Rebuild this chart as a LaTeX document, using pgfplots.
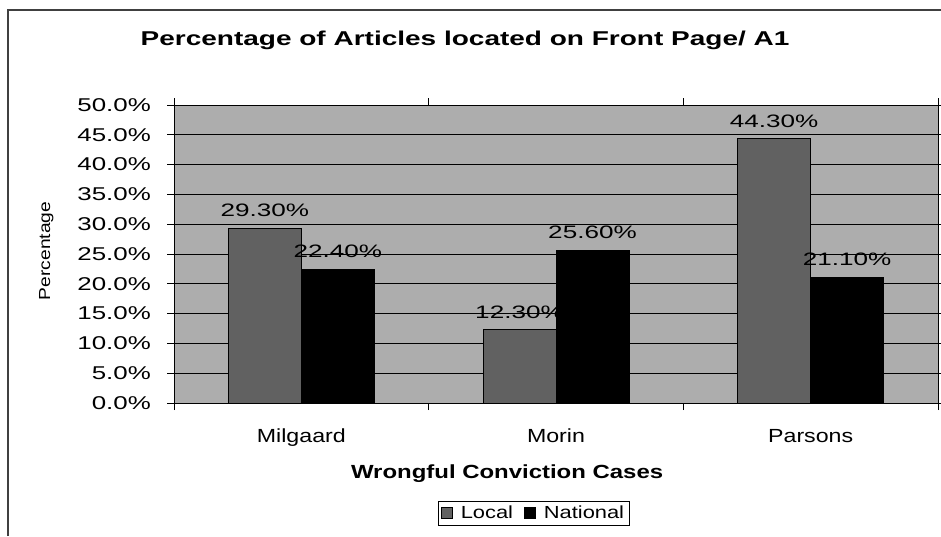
\documentclass[border=0pt]{standalone}
\usepackage{fontspec}
\setmainfont{Liberation Sans}
\usepackage{pgfplots}
\pgfplotsset{compat=1.18}
\newfontfamily\tickf[FakeStretch=1.4]{Liberation Sans}
\newfontfamily\catf[FakeStretch=1.22]{Liberation Sans}
\newfontfamily\titf[FakeStretch=1.4]{Liberation Sans}
\newfontfamily\xlabf[FakeStretch=1.26]{Liberation Sans}
\newfontfamily\ylabf[FakeStretch=1.2]{Liberation Sans}
\newfontfamily\legf[FakeStretch=1.25]{Liberation Sans}
\newfontfamily\datf[FakeStretch=1.45]{Liberation Sans}
\definecolor{plotbg}{gray}{0.68}
\definecolor{localc}{gray}{0.38}
\begin{document}
\begin{tikzpicture}
\useasboundingbox (0pt,0pt) rectangle (941pt,536pt);
\fill[white] (0pt,0pt) rectangle (941pt,536pt);
\draw[line width=1.2pt, black!75] (8pt,0pt) -- (8pt,526pt) -- (941pt,526pt);
\begin{axis}[
  at={(174pt,133pt)}, anchor=south west,
  scale only axis, width=764pt, height=298pt,
  xmin=-0.5, xmax=2.5, ymin=0, ymax=50,
  ybar=0pt, bar width=73pt,
  axis background/.style={fill=plotbg},
  axis line style={black, line width=0.9pt},
  tick align=outside, major tick length=7pt,
  tick style={black, line width=0.9pt},
  ytick={0,5,...,50},
  ymajorgrids, major grid style={black, line width=0.9pt},
  /pgf/number format/assume math mode=true,
  yticklabel={\pgfmathprintnumber[fixed,fixed zerofill,precision=1]{\tick}\%},
  yticklabel style={font=\tickf\fontsize{18.5}{21}\selectfont, anchor=east, inner sep=0pt, xshift=-16pt},
  xtick={-0.5,0.5,1.5,2.5}, xticklabels={},
  extra x ticks={0,1,2}, extra x tick labels={Milgaard,Morin,Parsons},
  extra x tick style={major tick length=0pt, grid=none},
  xticklabel style={font=\catf\fontsize{19}{22}\selectfont, anchor=base, inner sep=0pt, yshift=-39pt},
  title={Percentage of Articles located on Front Page/ A1},
  title style={at={(0.381,1.181)}, anchor=base, inner sep=0pt, font=\titf\bfseries\fontsize{20}{24}\selectfont},
  xlabel={Wrongful Conviction Cases},
  xlabel style={at={(0.436,-0.255)}, anchor=base, inner sep=0pt, font=\xlabf\bfseries\fontsize{19}{22}\selectfont},
  ylabel={Percentage},
  ylabel style={at={(-0.167,0.510)}, anchor=center, inner sep=0pt, font=\ylabf\fontsize{16}{18}\selectfont},
  nodes near coords={\pgfmathprintnumber[fixed,fixed zerofill,precision=2]{\pgfplotspointmeta}\%},
  nodes near coords style={font=\datf\fontsize{18}{21}\selectfont, text=black, anchor=south, inner sep=0pt, yshift=11pt},
  legend columns=2,
  legend style={at={(0.4706,-0.369)}, anchor=center, draw=black, line width=0.7pt,
    font=\legf\fontsize{17.5}{20}\selectfont, inner xsep=3pt, inner ysep=3pt,
    /tikz/every odd column/.append style={column sep=6pt},
    /tikz/every even column/.append style={column sep=9pt}},
]
\addplot[fill=localc, draw=black, line width=1pt,
  legend image code/.code={\draw[fill=localc, draw=black, line width=0.8pt] (0pt,-5.5pt) rectangle (11pt,5.5pt);}]
  coordinates {(0,29.3) (1,12.3) (2,44.3)};
\addlegendentry{Local}
\addplot[fill=black, draw=black, line width=1pt,
  legend image code/.code={\draw[fill=black, draw=black, line width=0.8pt] (0pt,-5.5pt) rectangle (11pt,5.5pt);}]
  coordinates {(0,22.4) (1,25.6) (2,21.1)};
\addlegendentry{National}
\end{axis}
\end{tikzpicture}
\end{document}
